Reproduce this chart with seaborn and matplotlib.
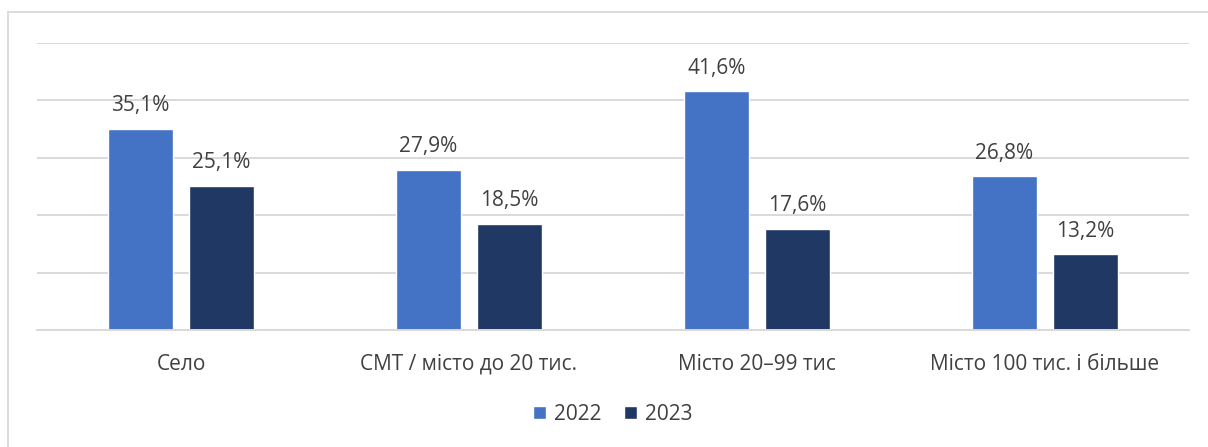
import matplotlib
matplotlib.use("Agg")
import matplotlib.pyplot as plt
import seaborn as sns
import pandas as pd
from matplotlib.lines import Line2D

# data
categories = ["Село", "СМТ / місто до 20 тис.", "Місто 20–99 тис", "Місто 100 тис. і більше"]
years = ["2022", "2023"]
values_2022 = [35.1, 27.9, 41.6, 26.8]
values_2023 = [25.1, 18.5, 17.6, 13.2]

df = pd.DataFrame({
    "Category": categories * 2,
    "Year": [years[0]] * 4 + [years[1]] * 4,
    "Value": values_2022 + values_2023,
})

sns.set_theme(style="white")
plt.rcParams["font.family"] = ["Open Sans", "DejaVu Sans"]
text_color = "#404040"
fs = 15

fig = plt.figure(figsize=(12.08, 4.47), dpi=100)
ax = fig.add_axes([37 / 1208, 1 - 330 / 447, 1152 / 1208, 287 / 447])

sns.barplot(data=df, x="Category", y="Value", hue="Year",
            palette=["#4472C4", "#203864"], width=0.5625, gap=0.2,
            saturation=1, ax=ax)

for cont in ax.containers:
    ax.bar_label(cont, labels=[f"{v:.1f}%".replace(".", ",") for v in cont.datavalues],
                 padding=9, fontsize=fs, color=text_color)

ax.set_xlim(-0.5, 3.5)
ax.set_ylim(0, 50)
ax.set_yticks(range(0, 51, 10))
ax.yaxis.grid(True, color="#d9d9d9", linewidth=1.4)
ax.set_axisbelow(True)
ax.tick_params(axis="y", left=False, labelleft=False)
ax.tick_params(axis="x", bottom=False, pad=11, labelsize=fs, labelcolor=text_color)
ax.set_xlabel("")
ax.set_ylabel("")
for s in ["top", "right", "left"]:
    ax.spines[s].set_visible(False)
ax.spines["bottom"].set_color("#d9d9d9")
ax.spines["bottom"].set_linewidth(1.4)

ax.legend(loc="center", bbox_to_anchor=(0.5, -0.295), ncol=2, frameon=False,
          fontsize=fs, labelcolor=text_color, handlelength=0.6, handleheight=0.6,
          handletextpad=0.4, columnspacing=1.1)

# outer border of the chart area (left and top edges visible)
bx, by = 8 / 1208, 1 - 12 / 447
fig.add_artist(Line2D([bx, bx], [0, by], transform=fig.transFigure,
                      color="#d9d9d9", linewidth=1.3))
fig.add_artist(Line2D([bx, 1], [by, by], transform=fig.transFigure,
                      color="#d9d9d9", linewidth=1.3))

fig.savefig("out.png", dpi=100)
